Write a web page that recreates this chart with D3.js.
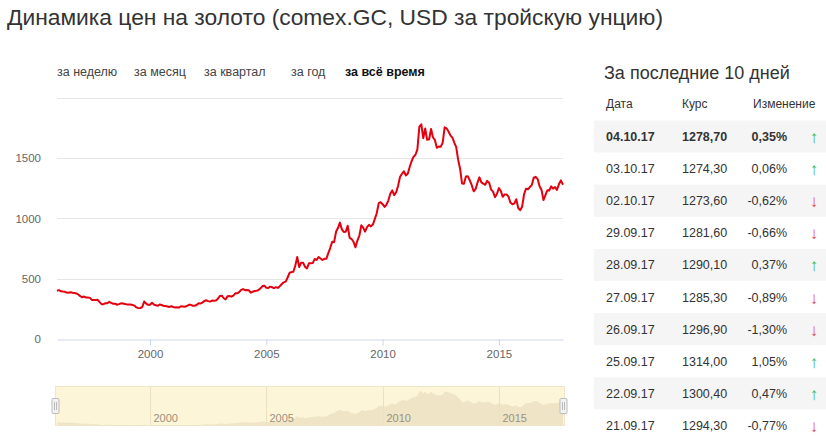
<!DOCTYPE html>
<html>
<head>
<meta charset="utf-8">
<script src="https://cdn.jsdelivr.net/npm/d3@7"></script>
<style>
  body { margin: 0; background: #fff; }
  svg { display: block; font-family: "Liberation Sans", Arial, sans-serif; }
</style>
</head>
<body>
<svg id="chart"></svg>
<script>
// monthly gold prices, USD per troy ounce, Jan 1996 .. Sep 2017, then 04.10.17
const startMonth = '1996-01'
const lastDate = '2017-10-04'
const goldPrices = [
  400, 405, 396, 393, 392, 385, 383, 387, 383, 381, 378, 369,
  355, 346, 352, 344, 344, 341, 324, 324, 323, 325, 306, 289,
  289, 297, 296, 308, 299, 292, 293, 284, 289, 296, 294, 291,
  287, 287, 286, 282, 277, 262, 256, 257, 265, 311, 293, 283,
  284, 300, 286, 280, 275, 286, 282, 274, 273, 270, 266, 272,
  265, 262, 263, 261, 272, 270, 268, 273, 283, 283, 276, 276,
  282, 296, 294, 302, 314, 321, 314, 310, 319, 317, 319, 333,
  357, 359, 340, 328, 355, 356, 351, 360, 379, 379, 389, 407,
  414, 405, 406, 404, 384, 392, 398, 400, 406, 420, 439, 442,
  424, 423, 434, 429, 422, 430, 424, 438, 456, 470, 476, 510,
  549, 555, 557, 610, 680, 596, 633, 632, 598, 586, 628, 629,
  631, 664, 655, 680, 667, 655, 665, 665, 712, 754, 806, 803,
  889, 922, 965, 909, 888, 889, 939, 839, 829, 806, 760, 816,
  858, 943, 924, 890, 928, 946, 934, 949, 996, 1043, 1127, 1134,
  1118, 1095, 1113, 1148, 1205, 1232, 1193, 1215, 1271, 1343, 1370, 1391,
  1356, 1372, 1424, 1474, 1510, 1528, 1572, 1760, 1780, 1665, 1745, 1652,
  1656, 1742, 1673, 1650, 1585, 1596, 1594, 1626, 1755, 1747, 1721, 1688,
  1670, 1627, 1593, 1487, 1414, 1290, 1287, 1348, 1349, 1316, 1275, 1225,
  1244, 1300, 1340, 1299, 1288, 1279, 1311, 1296, 1239, 1222, 1176, 1202,
  1251, 1227, 1179, 1198, 1199, 1181, 1131, 1117, 1125, 1159, 1086, 1068,
  1097, 1200, 1246, 1242, 1260, 1276, 1337, 1345, 1326, 1266, 1236, 1152,
  1192, 1234, 1231, 1266, 1246, 1260, 1236, 1283, 1315, 1278.7
]
const yTicks = [0, 500, 1000, 1500]
const xTickYears = [2000, 2005, 2010, 2015]
const periodTabs = ['за неделю', 'за месяц', 'за квартал', 'за год', 'за всё время']

const tableHeader = ['Дата', 'Курс', 'Изменение']
const tableDates = ['04.10.17', '03.10.17', '02.10.17', '29.09.17', '28.09.17', '27.09.17', '26.09.17', '25.09.17', '22.09.17', '21.09.17']
const tableRates = ['1278,70', '1274,30', '1273,60', '1281,60', '1290,10', '1285,30', '1296,90', '1314,00', '1300,40', '1294,30']
const tableChanges = [0.35, 0.06, -0.62, -0.66, 0.37, -0.89, -1.30, 1.05, 0.47, -0.77]

const W = 826, H = 441
const svg = d3.select('#chart').attr('width', W).attr('height', H)

const parseMonth = d3.timeParse('%Y-%m')
const first = parseMonth(startMonth)
const data = goldPrices.map((v, i) => ({
  date: i === goldPrices.length - 1 ? d3.timeParse('%Y-%m-%d')(lastDate) : d3.timeMonth.offset(first, i),
  value: v
}))

// title
svg.append('text')
  .attr('x', 7).attr('y', 25)
  .attr('font-size', 22.8).attr('fill', '#333')
  .text('Динамика цен на золото (comex.GC, USD за тройскую унцию)')

// period tabs
const tabX = [57, 134, 204, 291, 345]
periodTabs.forEach((t, i) => {
  svg.append('text')
    .attr('x', tabX[i]).attr('y', 76)
    .attr('font-size', 12.5)
    .attr('fill', i === 4 ? '#111' : '#444')
    .attr('font-weight', i === 4 ? 'bold' : 'normal')
    .text(t)
})

// main chart
const x = d3.scaleTime()
  .domain([first, data[data.length - 1].date])
  .range([57, 563])
const y = d3.scaleLinear().domain([0, 2000]).range([339, 97.8])

svg.append('g')
  .selectAll('line')
  .data([500, 1000, 1500, 2000])
  .join('line')
  .attr('x1', 57).attr('x2', 563)
  .attr('y1', d => Math.round(y(d)) + 0.5).attr('y2', d => Math.round(y(d)) + 0.5)
  .attr('stroke', '#e6e6e6')

const yAxis = svg.append('g')
  .attr('transform', 'translate(41,0)')
  .call(d3.axisLeft(y).tickValues(yTicks).tickFormat(d3.format('d')).tickSize(0).tickPadding(0))
yAxis.select('.domain').remove()
yAxis.selectAll('text')
  .attr('font-size', 11.5).attr('fill', '#666')
  .attr('font-family', '"Liberation Sans", Arial, sans-serif')

const xAxis = svg.append('g')
  .attr('transform', 'translate(0,339.5)')
  .call(d3.axisBottom(x)
    .tickValues(xTickYears.map(yr => new Date(yr, 0, 1)))
    .tickFormat(d3.timeFormat('%Y'))
    .tickSize(6).tickSizeOuter(0).tickPadding(4))
xAxis.select('.domain').attr('stroke', '#ccd6eb')
xAxis.selectAll('line').attr('stroke', '#ccd6eb')
xAxis.selectAll('text')
  .attr('font-size', 11.5).attr('fill', '#666')
  .attr('font-family', '"Liberation Sans", Arial, sans-serif')

const line = d3.line()
  .x(d => x(d.date))
  .y(d => y(d.value))

svg.append('path')
  .datum(data)
  .attr('d', line)
  .attr('fill', 'none')
  .attr('stroke', '#e3000f')
  .attr('stroke-width', 2)
  .attr('stroke-linejoin', 'round')

// navigator
const navTop = 386, navBottom = 426
const navLeft = 55, navRight = 565
svg.append('rect')
  .attr('x', navLeft).attr('y', navTop)
  .attr('width', navRight - navLeft).attr('height', navBottom - navTop)
  .attr('fill', '#fdf5d7')

const ny = d3.scaleLinear()
  .domain([d3.min(goldPrices) - 10, d3.max(goldPrices)])
  .range([navBottom, navTop + 5])

svg.append('path')
  .datum(data)
  .attr('d', d3.area().x(d => x(d.date)).y0(navBottom).y1(d => ny(d.value)))
  .attr('fill', '#efe5c6')

xTickYears.forEach(yr => {
  const px = Math.round(x(new Date(yr, 0, 1))) + 0.5
  svg.append('line')
    .attr('x1', px).attr('x2', px).attr('y1', navTop).attr('y2', navBottom)
    .attr('stroke', '#ebe1c2')
  svg.append('text')
    .attr('x', px + 3).attr('y', 422)
    .attr('font-size', 11).attr('fill', '#9a9180')
    .text(yr)
})

svg.append('rect')
  .attr('x', navLeft + 0.5).attr('y', navTop + 0.5)
  .attr('width', navRight - navLeft - 1).attr('height', navBottom - navTop - 1)
  .attr('fill', 'none').attr('stroke', '#efe6c8')

;[navLeft, navRight - 2].forEach(hx => {
  const g = svg.append('g').attr('transform', `translate(${hx - 3.5},398)`)
  g.append('rect')
    .attr('x', 0.5).attr('y', 0.5).attr('width', 7).attr('height', 15)
    .attr('rx', 1)
    .attr('fill', '#f2f2f2').attr('stroke', '#bbb')
  g.append('line').attr('x1', 3).attr('x2', 3).attr('y1', 4).attr('y2', 12).attr('stroke', '#bbb')
  g.append('line').attr('x1', 5).attr('x2', 5).attr('y1', 4).attr('y2', 12).attr('stroke', '#bbb')
})

// table of the last 10 days
svg.append('text')
  .attr('x', 604).attr('y', 79)
  .attr('font-size', 18).attr('fill', '#333')
  .text('За последние 10 дней')

const headX = [606, 682, 753]
tableHeader.forEach((h, i) => {
  svg.append('text')
    .attr('x', headX[i]).attr('y', 108)
    .attr('font-size', 12).attr('fill', '#333')
    .text(h)
})

const rowH = 32.1, rowTop = 120.5
const fmtChange = v => v.toFixed(2).replace('.', ',') + '%'
tableDates.forEach((d, i) => {
  const top = rowTop + i * rowH
  const cy = top + rowH / 2 + 4.5
  if (i % 2 === 0) {
    svg.append('rect')
      .attr('x', 594).attr('y', top)
      .attr('width', W - 594).attr('height', rowH)
      .attr('fill', '#f5f5f5')
  }
  const bold = i === 0 ? 'bold' : 'normal'
  svg.append('text').attr('x', 606).attr('y', cy)
    .attr('font-size', 12.5).attr('font-weight', bold).attr('fill', '#333')
    .text(d)
  svg.append('text').attr('x', 682).attr('y', cy)
    .attr('font-size', 12.5).attr('font-weight', bold).attr('fill', '#333')
    .text(tableRates[i])
  svg.append('text').attr('x', 787).attr('y', cy)
    .attr('text-anchor', 'end')
    .attr('font-size', 12.5).attr('font-weight', bold).attr('fill', '#333')
    .text(fmtChange(tableChanges[i]))
  const up = tableChanges[i] >= 0
  svg.append('text').attr('x', 814).attr('y', cy + 2)
    .attr('text-anchor', 'middle')
    .attr('font-size', 17)
    .attr('fill', up ? '#3cb44b' : '#e04a3f')
    .text(up ? '↑' : '↓')
})
</script>
</body>
</html>
